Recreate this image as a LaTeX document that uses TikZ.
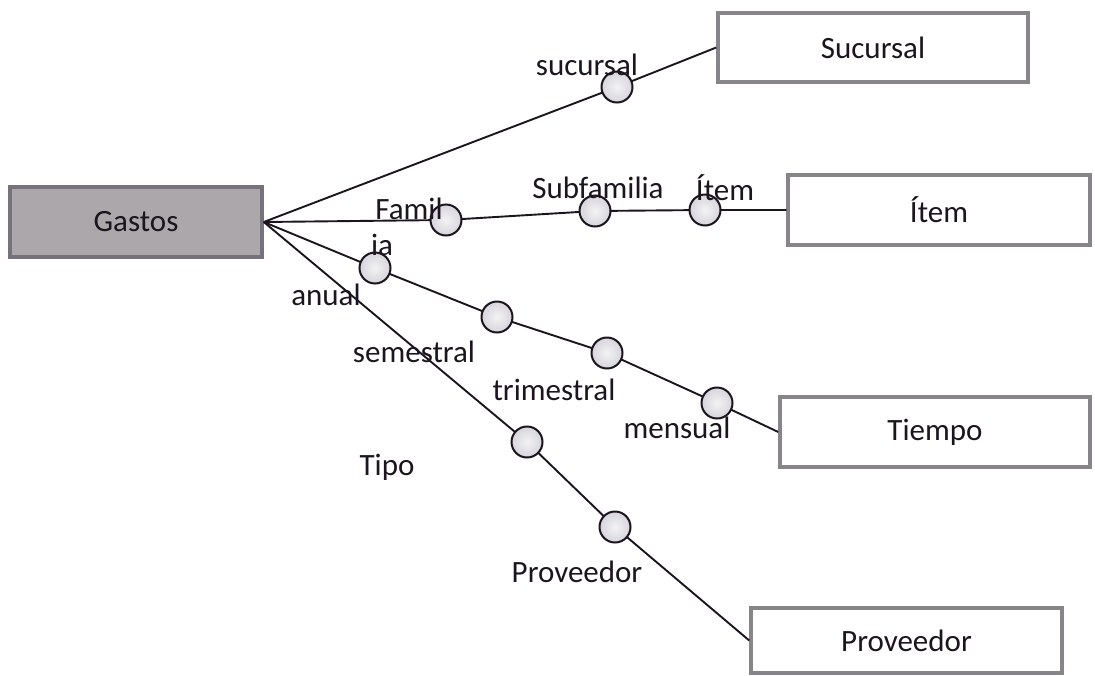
\documentclass[tikz,border=0pt]{standalone}
\usepackage{fontspec}
\setmainfont{Carlito}
\definecolor{factfill}{RGB}{171,167,171}
\definecolor{factedge}{RGB}{118,113,122}
\definecolor{dimedge}{RGB}{135,132,138}
\definecolor{ink}{RGB}{28,20,30}
\definecolor{lvlfill}{RGB}{214,213,219}
\begin{document}
\begin{tikzpicture}[x=1pt,y=-1pt,
  font=\fontsize{31}{37}\selectfont,
  every node/.style={text=ink},
  fact/.style={draw=factedge, line width=3.5pt, fill=factfill, inner sep=0pt},
  dim/.style={draw=dimedge, line width=3.5pt, fill=white, inner sep=0pt},
  lvl/.style={circle, draw=ink, line width=2pt, inner color=white!70!lvlfill, outer color=lvlfill, minimum size=31pt, inner sep=0pt},
  link/.style={line width=1.9pt, draw=ink},
  lbl/.style={inner sep=0pt}]
\useasboundingbox (0,0) rectangle (1095,675);

% fact and dimension boxes
\node[fact, minimum width=252pt, minimum height=70pt] (g) at (136,222) {Gastos};
\node[dim, minimum width=310pt, minimum height=69pt] (suc) at (873,47.5) {Sucursal};
\node[dim, minimum width=302pt, minimum height=70pt] (item) at (939,210) {Ítem};
\node[dim, minimum width=310pt, minimum height=70pt] (tiem) at (935,432) {Tiempo};
\node[dim, minimum width=311pt, minimum height=65pt] (prov) at (906.5,640.5) {Proveedor};

% hierarchy levels
\coordinate (c1) at (617,87);
\coordinate (f1) at (446,220);
\coordinate (f2) at (595,211);
\coordinate (f3) at (705,210);
\coordinate (t1) at (375,268);
\coordinate (t2) at (497,317);
\coordinate (t3) at (607,353);
\coordinate (t4) at (717,403);
\coordinate (p1) at (527,442);
\coordinate (p2) at (615,527);

% connectors
\draw[link] (g.east) -- (c1) -- (suc.west);
\draw[link] (g.east) -- (f1) -- (f2) -- (f3) -- (item.west);
\draw[link] (g.east) -- (t1) -- (t2) -- (t3) -- (t4) -- (tiem.west);
\draw[link] (g.east) -- (p1) -- (p2) -- (prov.west);

\foreach \c in {c1,f1,f2,f3,t1,t2,t3,t4,p1,p2}
  \node[lvl] (n\c) at (\c) {};

% level labels
\node[lbl] (lsuc) at (587,65) {sucursal};
\node[lbl] (lfam) at (409,209) {Famil};
\node[lbl] (lia) at (382,245) {ia};
\node[lbl] (lsub) at (598,188) {Subfamilia};
\node[lbl] (lite) at (725,188) {Ítem};
\node[lbl] (lanu) at (326,295) {anual};
\node[lbl] (lsem) at (414,352) {semestral};
\node[lbl] (ltri) at (554,390) {trimestral};
\node[lbl] (lmen) at (677,428) {mensual};
\node[lbl] (ltip) at (387,467) {Tipo};
\node[lbl] (lpro) at (577,572) {Proveedor};
\end{tikzpicture}
\end{document}
